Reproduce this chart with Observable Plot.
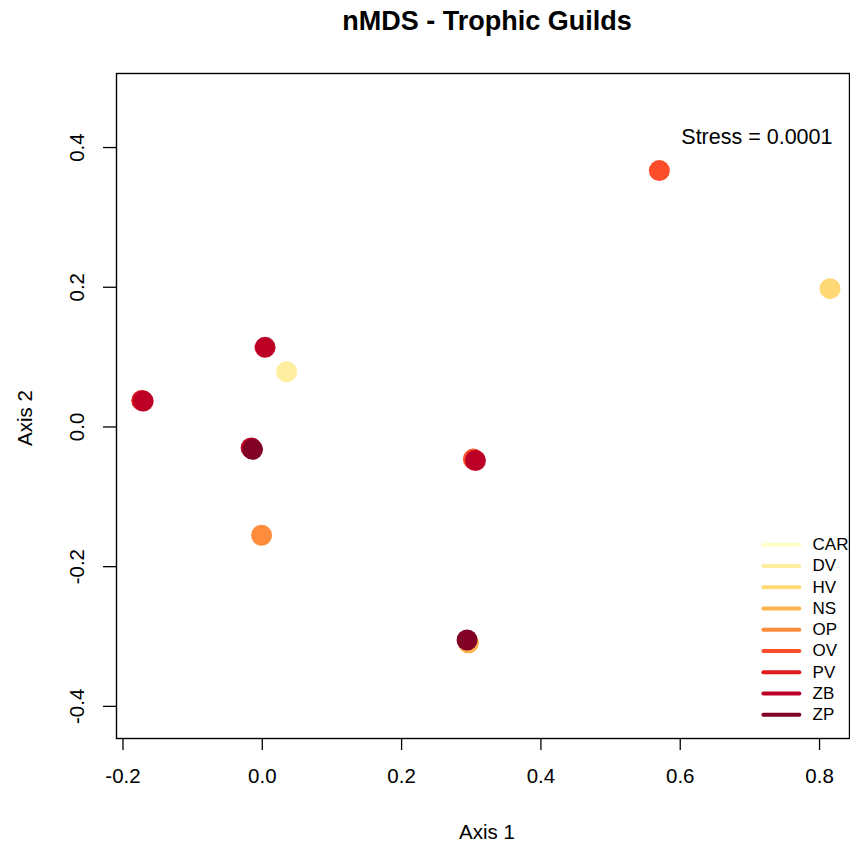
<!DOCTYPE html>
<html>
<head>
<meta charset="utf-8">
<script src="https://cdn.jsdelivr.net/npm/d3@7"></script>
<script src="https://cdn.jsdelivr.net/npm/@observablehq/plot@0.6"></script>
<style>
  html, body { margin: 0; padding: 0; background: #fff; }
  svg { display: block; }
</style>
</head>
<body>
<div id="chart"></div>
<script>
// Guilds (legend order) and their colours (YlOrRd, 9 classes)
const guilds = ["CAR", "DV", "HV", "NS", "OP", "OV", "PV", "ZB", "ZP"];
const guildColors = ["#FFFFCC", "#FFEDA0", "#FED976", "#FEB24C", "#FD8D3C", "#FC4E2A", "#E31A1C", "#BD0026", "#800026"];

// nMDS scores (drawn in guild order, later guilds on top)
const pointGuild = ["DV", "HV", "NS", "OP", "OV", "OV", "PV", "ZB", "ZB", "ZB", "ZB", "ZP", "ZP"];
const axis1      = [0.035, 0.815, 0.296, -0.001, 0.570, 0.303, -0.173, -0.171, 0.004, 0.306, -0.016, -0.014, 0.294];
const axis2      = [0.079, 0.198, -0.309, -0.155, 0.367, -0.046, 0.038, 0.037, 0.114, -0.048, -0.030, -0.032, -0.305];

const xTicks = [-0.2, 0.0, 0.2, 0.4, 0.6, 0.8];
const yTicks = [-0.4, -0.2, 0.0, 0.2, 0.4];
const stressLabel = "Stress = 0.0001";
const title = "nMDS - Trophic Guilds";

const points = pointGuild.map((g, i) => ({guild: g, x: axis1[i], y: axis2[i]}));

// legend layout (data-space placement in lower-right corner)
const legTop = -0.1687, legStep = 0.0304;
const legend = guilds.map((g, i) => ({guild: g, y: legTop - i * legStep}));

const font = "'Liberation Sans', Arial, Helvetica, sans-serif";
const fmt = d => d.toFixed(1);

const chart = Plot.plot({
  width: 850,
  height: 849,
  marginLeft: 116,
  marginRight: 1,
  marginTop: 73,
  marginBottom: 111,
  style: {fontFamily: font, fontSize: "20px", background: "#fff", color: "#000"},
  x: {domain: [-0.2093, 0.843]},
  y: {domain: [-0.446, 0.506]},
  color: {domain: guilds, range: guildColors},
  marks: [
    Plot.frame({stroke: "#000", strokeWidth: 1.4}),
    Plot.axisX({ticks: xTicks, tickSize: 12, tickPadding: 18, tickFormat: fmt, fontSize: 20.5, stroke: "#000", strokeWidth: 1.3, label: null}),
    Plot.axisY({ticks: yTicks, tickSize: 13, tickFormat: () => "", stroke: "#000", strokeWidth: 1.3, label: null}),
    Plot.text(yTicks, {y: d => d, text: fmt, frameAnchor: "left", dx: -39, rotate: -90, textAnchor: "middle", lineAnchor: "middle", fontSize: 20.5, fill: "#000"}),
    Plot.dot(points, {x: "x", y: "y", fill: "guild", r: 10.5, stroke: null}),
    Plot.link(legend, {x1: 0.7194, x2: 0.771, y1: "y", y2: "y", stroke: "guild", strokeWidth: 4, strokeLinecap: "round"}),
    Plot.text(legend, {x: 0.790, y: "y", text: "guild", textAnchor: "start", lineAnchor: "middle", fontSize: 17, fill: "#000"}),
    Plot.text([stressLabel], {frameAnchor: "top-right", dx: -17, dy: 64, textAnchor: "end", lineAnchor: "middle", fontSize: 21.5, fill: "#000"}),
    Plot.text([title], {frameAnchor: "top", dx: 4, dy: -52, lineAnchor: "middle", fontSize: 27, fontWeight: "bold", fill: "#000"}),
    Plot.text(["Axis 1"], {frameAnchor: "bottom", dx: 4, dy: 94, lineAnchor: "middle", fontSize: 20.5, fill: "#000"}),
    Plot.text(["Axis 2"], {frameAnchor: "left", dx: -91, dy: 12, rotate: -90, textAnchor: "middle", lineAnchor: "middle", fontSize: 20.5, fill: "#000"})
  ]
});
document.getElementById("chart").appendChild(chart);
</script>
</body>
</html>
